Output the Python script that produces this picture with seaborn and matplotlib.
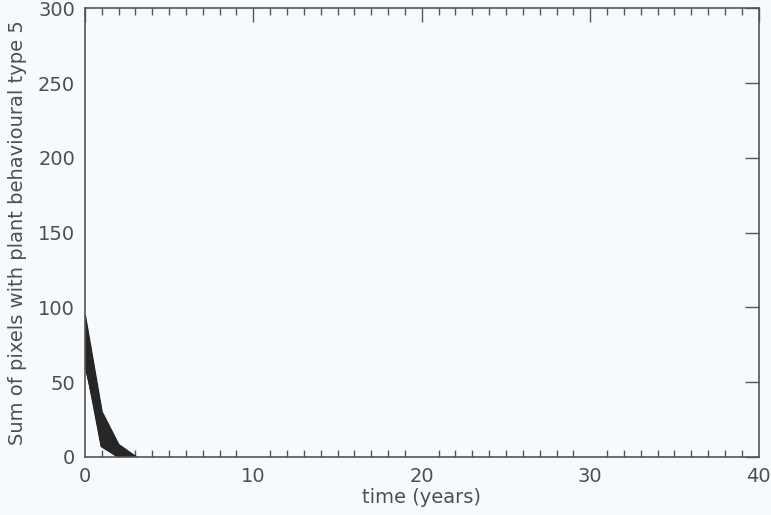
import numpy as np
import pandas as pd
import seaborn as sns
import matplotlib
matplotlib.use("Agg")
import matplotlib.pyplot as plt
from matplotlib.ticker import MultipleLocator

# Data: ensemble runs, sum of pixels with plant behavioural type 5 at years 0..3
years = [0, 1, 2, 3]
run_01 = [95, 30, 8, 0]
run_02 = [92, 28, 6, 0]
run_03 = [90, 26, 5, 0]
run_04 = [88, 25, 4, 0]
run_05 = [86, 22, 3, 0]
run_06 = [84, 20, 2, 0]
run_07 = [82, 18, 1, 0]
run_08 = [80, 16, 0, 0]
run_09 = [78, 15, 0, 0]
run_10 = [76, 13, 0, 0]
run_11 = [74, 12, 1, 0]
run_12 = [72, 10, 0, 0]
run_13 = [70, 9, 0, 0]
run_14 = [68, 8, 0, 0]
run_15 = [66, 7, 0, 0]
run_16 = [64, 12, 2, 0]
run_17 = [62, 20, 4, 0]
run_18 = [89, 24, 7, 0]
run_19 = [93, 27, 5, 0]
run_20 = [81, 19, 3, 0]
runs = [run_01, run_02, run_03, run_04, run_05, run_06, run_07, run_08, run_09, run_10,
        run_11, run_12, run_13, run_14, run_15, run_16, run_17, run_18, run_19, run_20]

xlabel = "time (years)"
ylabel = "Sum of pixels with plant behavioural type 5"

rows = []
for i, r in enumerate(runs):
    for t, v in zip(years, r):
        rows.append({"run": i, "time": t, "value": v})
df = pd.DataFrame(rows)

sns.set_style("white")
plt.rcParams['font.family'] = ['DejaVu Sans']
txt = "#4f4f4f"

fig = plt.figure(figsize=(7.71, 5.15), dpi=100)
fig.patch.set_facecolor("#f7fafc")
ax = fig.add_axes([0.110, 0.113, 0.874, 0.871])
ax.set_facecolor("#f7fafc")

sns.lineplot(data=df, x="time", y="value", units="run", estimator=None,
             color="#262626", linewidth=1.6, ax=ax, legend=False)

ax.set_xlim(0, 40)
ax.set_ylim(0, 300)
ax.xaxis.set_major_locator(MultipleLocator(10))
ax.xaxis.set_minor_locator(MultipleLocator(1))
ax.yaxis.set_major_locator(MultipleLocator(50))
ax.tick_params(axis="both", which="major", direction="in", length=10, width=1,
               color="#555555", labelsize=14, labelcolor=txt, top=True, right=True, pad=7)
ax.tick_params(axis="x", which="minor", direction="in", length=5, width=1,
               color="#555555", top=True, bottom=True)
for s in ax.spines.values():
    s.set_color("#555555")
    s.set_linewidth(1.2)
ax.set_xlabel(xlabel, fontsize=14, color=txt, labelpad=2)
ax.set_ylabel(ylabel, fontsize=14, color=txt, labelpad=8)

fig.savefig("out.png", dpi=100, facecolor=fig.get_facecolor())
